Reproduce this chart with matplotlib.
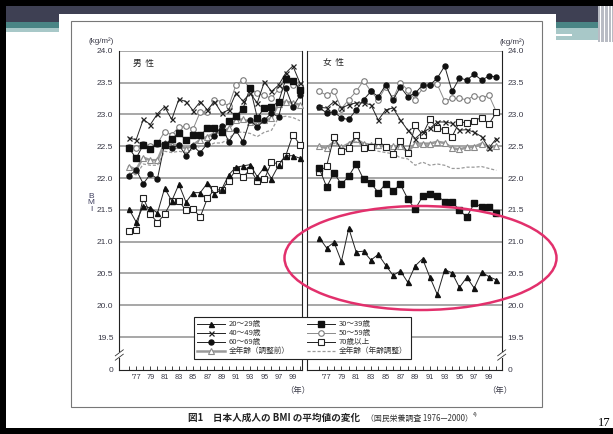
import matplotlib
matplotlib.use("Agg")
import matplotlib.pyplot as plt
from matplotlib.lines import Line2D
from matplotlib.patches import Rectangle, Ellipse

W, H = 613, 434
years = list(range(1976, 2001))

# ---- Men (男性) ----
m_20 = [21.51, 21.31, 21.56, 21.53, 21.45, 21.84, 21.64, 21.90, 21.62, 21.77, 21.77, 21.92, 21.75, 21.82,
        22.05, 22.17, 22.19, 22.21, 22.02, 22.17, 21.99, 22.20, 22.35, 22.35, 22.31]
m_30 = [22.47, 22.31, 22.52, 22.46, 22.55, 22.52, 22.62, 22.70, 22.60, 22.67, 22.67, 22.78, 22.78, 22.72,
        22.90, 22.97, 23.09, 23.42, 22.95, 23.10, 23.12, 23.20, 23.55, 23.53, 23.39]
m_40 = [22.63, 22.60, 22.92, 22.84, 23.01, 23.12, 22.92, 23.24, 23.20, 23.06, 23.20, 23.07, 23.20, 23.02,
        23.07, 23.33, 23.21, 23.33, 23.18, 23.51, 23.36, 23.46, 23.65, 23.76, 23.49]
m_50 = [22.48, 22.47, 22.54, 22.50, 22.54, 22.73, 22.68, 22.80, 22.81, 22.77, 23.04, 23.04, 23.23, 23.20,
        23.13, 23.46, 23.54, 23.41, 23.33, 23.30, 23.25, 23.40, 23.59, 23.46, 23.45]
m_60 = [22.03, 22.13, 21.91, 22.06, 21.99, 22.54, 22.47, 22.52, 22.35, 22.50, 22.40, 22.54, 22.66, 22.82,
        22.57, 22.75, 22.57, 22.91, 22.80, 22.91, 23.02, 22.96, 23.41, 23.12, 23.30]
m_70 = [21.16, 21.19, 21.69, 21.43, 21.30, 21.43, 21.64, 21.64, 21.49, 21.51, 21.39, 21.68, 21.82, 21.81,
        21.96, 22.13, 22.02, 22.13, 21.96, 21.98, 22.25, 22.22, 22.35, 22.68, 22.52]
m_all = [22.18, 22.13, 22.32, 22.28, 22.28, 22.55, 22.52, 22.52, 22.46, 22.52, 22.60, 22.65, 22.70, 22.72,
         22.78, 22.91, 22.92, 22.88, 22.85, 22.91, 22.94, 23.17, 23.20, 23.18, 23.15]
m_adj = [22.08, 22.05, 22.22, 22.20, 22.20, 22.42, 22.40, 22.42, 22.40, 22.45, 22.50, 22.50, 22.55, 22.55,
         22.62, 22.72, 22.72, 22.70, 22.65, 22.72, 22.75, 22.95, 22.97, 22.95, 22.90]

# ---- Women (女性) ----
f_20 = [21.06, 20.90, 20.99, 20.69, 21.21, 20.84, 20.85, 20.71, 20.80, 20.63, 20.47, 20.54, 20.36, 20.62,
        20.73, 20.44, 20.17, 20.56, 20.51, 20.28, 20.44, 20.27, 20.52, 20.45, 20.40]
f_30 = [22.15, 21.86, 22.08, 21.90, 22.03, 22.22, 21.98, 21.92, 21.77, 21.91, 21.80, 21.90, 21.67, 21.51,
        21.71, 21.75, 21.72, 21.63, 21.63, 21.49, 21.39, 21.60, 21.55, 21.55, 21.45]
f_40 = [23.11, 23.10, 23.20, 23.10, 23.15, 23.18, 23.18, 23.15, 22.91, 23.07, 23.10, 22.91, 22.75, 22.62,
        22.72, 22.78, 22.88, 22.88, 22.86, 22.75, 22.76, 22.72, 22.65, 22.47, 22.62]
f_50 = [23.36, 23.30, 23.36, 23.09, 23.23, 23.36, 23.53, 23.36, 23.23, 23.43, 23.25, 23.50, 23.38, 23.23,
        23.41, 23.46, 23.47, 23.21, 23.25, 23.25, 23.23, 23.29, 23.26, 23.30, 23.04]
f_60 = [23.11, 23.02, 23.04, 22.94, 22.92, 23.07, 23.23, 23.36, 23.28, 23.46, 23.23, 23.43, 23.28, 23.33,
        23.46, 23.46, 23.57, 23.76, 23.36, 23.57, 23.54, 23.63, 23.54, 23.60, 23.59]
f_70 = [22.10, 22.19, 22.65, 22.43, 22.47, 22.68, 22.47, 22.48, 22.58, 22.49, 22.38, 22.58, 22.39, 22.83,
        22.68, 22.92, 22.78, 22.76, 22.65, 22.88, 22.87, 22.90, 22.95, 22.85, 23.03]
f_all = [22.50, 22.47, 22.57, 22.48, 22.54, 22.61, 22.54, 22.52, 22.52, 22.49, 22.50, 22.50, 22.41, 22.54,
         22.54, 22.54, 22.57, 22.55, 22.47, 22.45, 22.48, 22.49, 22.54, 22.49, 22.50]
f_adj = [22.50, 22.47, 22.55, 22.47, 22.52, 22.57, 22.50, 22.45, 22.42, 22.40, 22.38, 22.32, 22.30, 22.20,
         22.25, 22.20, 22.22, 22.20, 22.15, 22.15, 22.17, 22.17, 22.18, 22.15, 22.12]

labels = ["20〜29歳", "30〜39歳", "40〜49歳", "50〜59歳", "60〜69歳", "70歳以上", "全年齢（調整前）", "全年齢（年齢調整）"]
ytick_vals = [19.5, 20.0, 20.5, 21.0, 21.5, 22.0, 22.5, 23.0, 23.5, 24.0]
xtick_lab_years = list(range(1977, 2000, 2))

CJK = ["Noto Sans CJK JP", "DejaVu Sans"]
NUM = ["Liberation Sans", "DejaVu Sans"]
TXT = "#3a3a48"

styles = [
    dict(color="#222222", lw=0.7, marker="^", ms=3.6, mfc="#111111", mec="#111111"),
    dict(color="#222222", lw=0.7, marker="s", ms=4.6, mfc="#111111", mec="#111111"),
    dict(color="#222222", lw=0.7, marker="x", ms=3.6, mec="#222222", mew=0.9),
    dict(color="#8a8a8a", lw=0.7, marker="o", ms=4.0, mfc="white", mec="#7a7a7a", mew=0.8),
    dict(color="#222222", lw=0.7, marker="o", ms=3.6, mfc="#111111", mec="#111111"),
    dict(color="#222222", lw=0.7, marker="s", ms=4.2, mfc="white", mec="#222222", mew=0.8),
    dict(color="#9a9a9a", lw=1.8, marker="^", ms=3.8, mfc="white", mec="#8a8a8a", mew=0.8),
    dict(color="#9a9a9a", lw=0.9, ls=(0, (2.5, 1.5))),
]

fig = plt.figure(figsize=(W / 100, H / 100), dpi=100)
fig.patch.set_facecolor("white")


def fx(x):
    return x / W


def fy(y):
    return 1 - y / H


# ---- slide decoration ----
def rect(x0, y0, x1, y1, color, z=0, **kw):
    fig.add_artist(Rectangle((fx(x0), fy(y1)), fx(x1) - fx(x0), fy(y0) - fy(y1),
                             transform=fig.transFigure, facecolor=color, edgecolor="none", zorder=z, **kw))


rect(0, 0, 613, 6, "black")
rect(0, 0, 6, 434, "black")
rect(0, 428, 613, 434, "black")
rect(6, 6, 613, 14, "#3e4053")
rect(6, 14, 59, 22.5, "#3e4053")
rect(556, 14, 613, 22.5, "#3e4053")
rect(6, 22.5, 59, 28.3, "#4a8585")
rect(6, 28.3, 59, 31.5, "#a8c8c8")
rect(556, 22.5, 598, 28.3, "#4a8585")
rect(556, 28.3, 598, 40, "#a8c8c8")
rect(598, 6, 613, 42, "#b9bcc4")
for sx in (600, 604, 608, 611):
    rect(sx, 6, sx + 1.2, 42, "white")
rect(556, 34.5, 572, 35.5, "white")

# image frame
fig.add_artist(Rectangle((fx(71), fy(407)), fx(542) - fx(71), fy(21) - fy(407), transform=fig.transFigure,
                         facecolor="none", edgecolor="#777777", lw=0.8, zorder=1))

# ---- panels ----
ybot = 24 - (370 - 50.7) / 63.65
panels = [
    dict(x0=119.3, x1=301.7, xl=(1976 - 9.7 / 7.125, 2000 + 1.7 / 7.125), side="left", title="男  性", tx=133,
         data=[m_20, m_30, m_40, m_50, m_60, m_70, m_all, m_adj]),
    dict(x0=307.3, x1=501.7, xl=(1976 - 12.0 / 7.39, 2000 + 5.4 / 7.39), side="right", title="女  性", tx=323,
         data=[f_20, f_30, f_40, f_50, f_60, f_70, f_all, f_adj]),
]
for p in panels:
    ax = fig.add_axes([fx(p["x0"]), fy(370), fx(p["x1"]) - fx(p["x0"]), fy(50.7) - fy(370)])
    ax.set_facecolor("none")
    ax.set_xlim(*p["xl"])
    ax.set_ylim(ybot, 24.0)
    for v in ytick_vals:
        ax.axhline(v, color="#8f8f8f", lw=1.1, zorder=1)
    order = [6, 7, 3, 5, 0, 4, 2, 1]
    for i in order:
        ax.plot(years, p["data"][i], zorder=3 + (i != 6 and i != 7), clip_on=False, **styles[i])
    for s in ("left", "right", "bottom"):
        ax.spines[s].set_color("#222222")
        ax.spines[s].set_linewidth(0.8)
    ax.spines["top"].set_visible(False)
    ax.set_xticks(years)
    ax.set_xticklabels([("'77" if yv == 1977 else f"{yv % 100:02d}") if yv in xtick_lab_years else ""
                        for yv in years], fontsize=5.3, family=NUM, color=TXT)
    ax.tick_params(axis="x", direction="in", length=2.6, width=0.6, pad=3.2, color="#222222")
    ax.set_yticks(ytick_vals + [ybot])
    ax.set_yticklabels([f"{v:.1f}" for v in ytick_vals] + ["0"], fontsize=6, family=NUM, color=TXT)
    if p["side"] == "left":
        ax.tick_params(axis="y", length=0, pad=4.2, left=True, labelleft=True)
    else:
        ax.tick_params(axis="y", length=0, pad=4.2, left=False, labelleft=False, right=True, labelright=True)
    ax.text((p["tx"] - p["x0"]) / (p["x1"] - p["x0"]), (50.7 - 63) / (370 - 50.7) + 1,
            p["title"], transform=ax.transAxes, fontsize=6.2, family=CJK, color="#222222", va="center")

# break marks
for bx in (119.3, 501.7):
    for dy in (-2.2, 2.2):
        fig.add_artist(Line2D([fx(bx - 4), fx(bx + 4)], [fy(358 + dy), fy(352 + dy)], transform=fig.transFigure,
                              color="#333333", lw=0.6, zorder=6))
    fig.add_artist(Rectangle((fx(bx - 1.2), fy(358)), fx(2.4), fy(352) - fy(358), transform=fig.transFigure,
                             facecolor="white", edgecolor="none", zorder=5))

# axis annotations
fig.text(fx(101), fy(41), "(kg/m²)", fontsize=5.8, family=NUM, color=TXT, ha="center", va="center")
fig.text(fx(512), fy(42), "(kg/m²)", fontsize=5.8, family=NUM, color=TXT, ha="center", va="center")
fig.text(fx(91), fy(203), "B\nM\nI", fontsize=6, family=NUM, color="#404060", ha="center", va="center",
         linespacing=0.95)
fig.text(fx(298), fy(390), "（年）", fontsize=6, family=CJK, color=TXT, ha="center", va="center")
fig.text(fx(500), fy(390), "（年）", fontsize=6, family=CJK, color=TXT, ha="center", va="center")

# legend
handles = [Line2D([], [], **styles[i]) for i in range(8)]
lorder = [0, 2, 4, 6, 1, 3, 5, 7]
leg = fig.legend([handles[i] for i in lorder], [labels[i] for i in lorder], ncol=2,
                 loc="upper left", bbox_to_anchor=(fx(194), fy(317)), borderaxespad=0,
                 prop=dict(family=CJK, size=5.5), frameon=True, fancybox=False, edgecolor="#222222",
                 framealpha=1, handlelength=3.6, handletextpad=0.5, columnspacing=2.3, borderpad=0.45,
                 labelspacing=0.12)
leg.get_frame().set_linewidth(0.8)
for t in leg.get_texts():
    t.set_color("#333333")
leg.set_zorder(10)

# caption
fig.text(fx(188), fy(418), "図1　日本人成人の BMI の平均値の変化", fontsize=6.9, family=CJK, color="#222222",
         va="center", weight="bold")
fig.text(fx(366), fy(418.5), "（国民栄養調査 1976—2000）", fontsize=5.7, family=CJK, color="#333333",
         va="center")
fig.text(fx(473), fy(414.5), "4)", fontsize=3.8, family=NUM, color="#333333", va="center")
fig.text(fx(604), fy(423), "17", fontsize=9, family=["Liberation Serif", "DejaVu Serif"], color="black",
         ha="center", va="center")

# highlight ellipse
fig.add_artist(Ellipse((fx(420.5), fy(258)), fx(272), 104 / H, transform=fig.transFigure, facecolor="none",
                       edgecolor="#e2306c", lw=1.8, zorder=12))

fig.savefig("out.png", dpi=100)
